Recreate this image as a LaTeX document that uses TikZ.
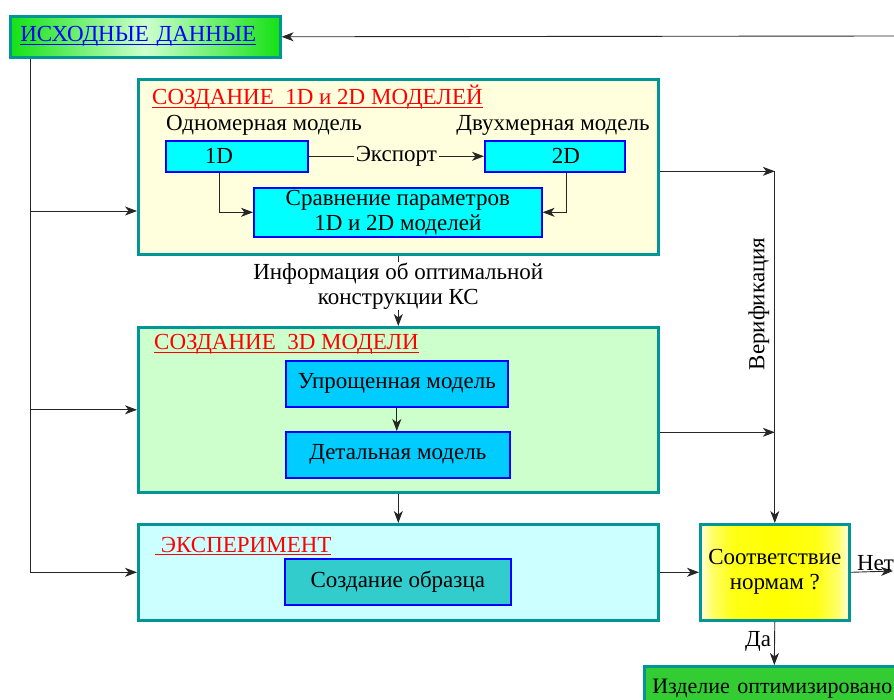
\documentclass[tikz,border=0pt]{standalone}
\usepackage{fontspec}
\setmainfont{Liberation Serif}
\usetikzlibrary{arrows.meta}
\definecolor{rimcol}{RGB}{0,150,150}
\definecolor{srcgreen}{RGB}{20,225,20}
\definecolor{srclight}{RGB}{205,255,205}
\definecolor{paneyel}{RGB}{255,255,221}
\definecolor{panegrn}{RGB}{204,255,204}
\definecolor{panecyan}{RGB}{204,255,255}
\definecolor{boxcyan}{RGB}{0,255,255}
\definecolor{boxsky}{RGB}{0,204,255}
\definecolor{boxteal}{RGB}{51,204,204}
\definecolor{resgreen}{RGB}{51,204,51}
\definecolor{titleblue}{RGB}{0,0,255}
\pgfdeclarehorizontalshading{normshade}{100bp}{color(0bp)=(yellow!12!white); color(25bp)=(yellow!12!white);
  color(29bp)=(yellow!60!white); color(36bp)=(yellow!92!white); color(50bp)=(yellow);
  color(64bp)=(yellow!92!white); color(71bp)=(yellow!60!white);
  color(75bp)=(yellow!12!white); color(100bp)=(yellow!12!white)}
\newcommand\ulin[1]{\setbox0\hbox{#1}\rlap{\rule[-2.6pt]{\wd0}{0.9pt}}\box0}

\begin{document}
\begin{tikzpicture}[x=1pt,y=-1pt,
  every node/.style={font=\rmfamily\fontsize{23}{25}\selectfont},
  panel/.style={draw=rimcol,line width=2.6pt,anchor=north west,inner sep=0pt},
  unit/.style={draw=blue,line width=1.6pt,anchor=north west,inner sep=0pt,align=center},
  conn/.style={line width=0.9pt,draw=black!85,-{Stealth[length=12pt,width=9pt,inset=3.5pt]}},
  plain/.style={line width=0.9pt,draw=black!85},
  ttl/.style={anchor=base west,text=red,inner sep=0pt}]
\useasboundingbox (0,0) rectangle (894,700);

\node[panel,shading=axis,left color=srcgreen,right color=srcgreen,middle color=srclight,
  minimum height=41pt,text width=250pt,inner xsep=10pt,align=left] (src) at (9,15)
  {\textcolor{titleblue}{\ulin{ИСХОДНЫЕ ДАННЫЕ}}};

\node[panel,fill=paneyel,minimum width=520pt,minimum height=175pt] (p12) at (137,78) {};
\node[panel,fill=panegrn,minimum width=520pt,minimum height=165pt] (p3d) at (137,326) {};
\node[panel,fill=panecyan,minimum width=520pt,minimum height=96pt] (pexp) at (137,523) {};

\node[ttl] (t12) at (152,105) {\ulin{СОЗДАНИЕ\ \ 1D и 2D МОДЕЛЕЙ}};
\node[ttl] (t3d) at (154,350) {\ulin{СОЗДАНИЕ\ \ 3D МОДЕЛИ}};
\node[ttl] (texp) at (155,552) {\ulin{\ ЭКСПЕРИМЕНТ}};

\node (l1d) at (264,125) {Одномерная модель};
\node (l2d) at (553,125) {Двухмерная модель};

\node[unit,fill=boxcyan,minimum width=142pt,minimum height=31pt] (b1d) at (165,140) {};
\node[unit,fill=boxcyan,minimum width=140pt,minimum height=31pt] (b2d) at (484,140) {};
\node (n1d) at (219,155.5) {1D};
\node (n2d) at (566,155.5) {2D};
\node[unit,fill=boxcyan,minimum width=288pt,minimum height=49pt] (bcmp) at (253,187)
  {Сравнение параметров\\1D и 2D моделей};

\node[unit,fill=boxsky,minimum width=222pt,minimum height=46pt] (bsim) at (285,360) {Упрощенная модель};
\node[unit,fill=boxsky,minimum width=224pt,minimum height=46pt] (bdet) at (285,431) {Детальная модель};
\node[unit,fill=boxteal,minimum width=226pt,minimum height=46pt] (bsmp) at (284,558) {Создание образца};

\node[panel,shading=normshade,minimum width=149pt,minimum height=96pt,align=center] (chk) at (699,523)
  {Соответствие\\нормам ?};
\node[panel,fill=resgreen,minimum height=44pt,text width=244pt,inner xsep=8pt,align=left,
  font=\rmfamily\fontsize{22}{25}\selectfont] (res) at (643,665) {\mbox{Изделие оптимизировано}};

\coordinate (trunk) at (30,56);
\coordinate (in12) at (137,211);
\coordinate (netend) at (893,571);
\coordinate (backin) at (896,36);

\draw[plain] (src.south -| trunk) -- (trunk |- pexp.west);
\draw[conn] (trunk |- in12) -- (in12);
\draw[conn] (trunk |- p3d.west) -- (p3d.west);
\draw[conn] (trunk |- pexp.west) -- (pexp.west);
\draw[conn] (backin) -- (src.east);

\draw[conn] (b1d.east) -- node[fill=paneyel,inner sep=2pt] (lexp) {Экспорт} (b2d.west);
\draw[conn] (b1d.south -| n1d) |- (bcmp.west);
\draw[conn] (b2d.south -| n2d) |- (bcmp.east);

\draw[conn] (p12.south) -- node[pos=0.43,fill=white,align=center,inner sep=1pt] (linfo)
  {Информация об оптимальной\\конструкции КС} (p3d.north);
\draw[conn] (bsim.south) -- (bsim.south |- bdet.north);
\draw[conn] (p3d.south) -- (pexp.north);

\draw[conn] ([yshift=-4.5pt]p12.east) -- ([yshift=-4.5pt]p12.east -| chk.north);
\draw[conn] ([yshift=-22.5pt]p3d.east) -- ([yshift=-22.5pt]p3d.east -| chk.north);
\draw[conn] ([yshift=-4.5pt]p12.east -| chk.north) -- node[pos=0.377,rotate=90,anchor=south,inner sep=5pt] (lver)
  {Верификация} (chk.north);

\draw[conn] (pexp.east) -- (chk.west);
\draw[conn] (chk.east) -- node[pos=0,anchor=south west,xshift=5pt,inner sep=1pt] (lnet) {Нет} (netend);
\draw[conn] (chk.south) -- node[left,pos=0.45,inner sep=3pt] (lyes) {Да} (res.north);

\end{tikzpicture}
\end{document}
